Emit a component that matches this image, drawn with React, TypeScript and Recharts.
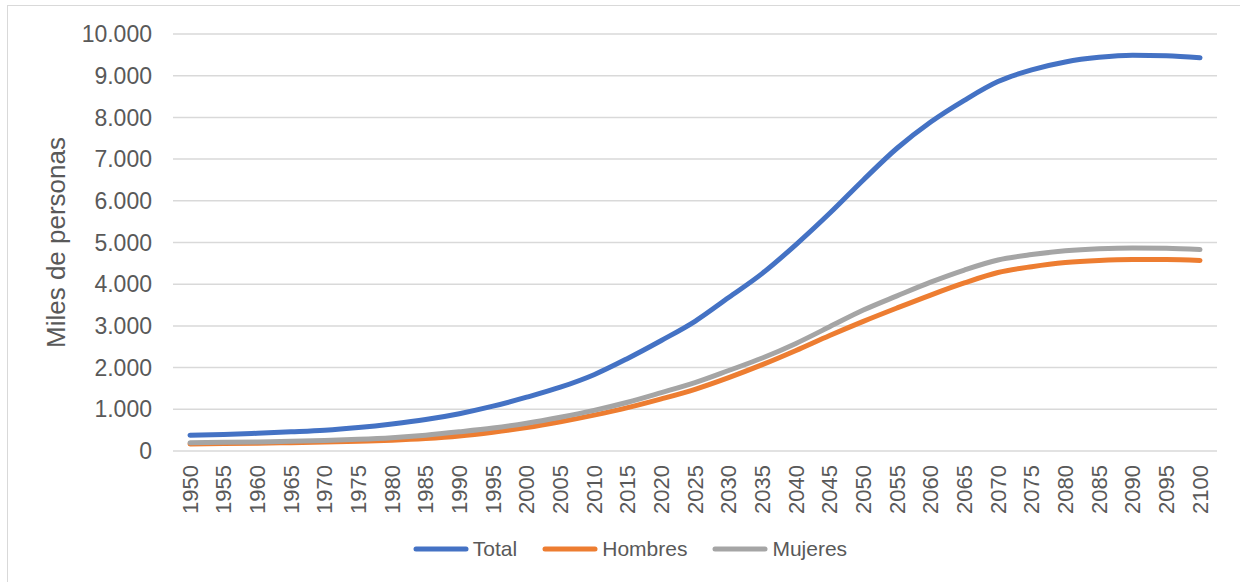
import React from "react";
import {
  LineChart,
  Line,
  XAxis,
  YAxis,
  CartesianGrid,
  Legend,
} from "recharts";

const years = [
  "1950", "1955", "1960", "1965", "1970", "1975", "1980", "1985", "1990", "1995",
  "2000", "2005", "2010", "2015", "2020", "2025", "2030", "2035", "2040", "2045",
  "2050", "2055", "2060", "2065", "2070", "2075", "2080", "2085", "2090", "2095",
  "2100",
];

const total = [
  380, 395, 425, 460, 500, 565, 650, 755, 895, 1075,
  1290, 1530, 1830, 2220, 2650, 3110, 3680, 4260, 4950, 5700,
  6500, 7260, 7890, 8410, 8860, 9140, 9330, 9440, 9490, 9480,
  9430,
];

const hombres = [
  170, 178, 188, 200, 215, 235, 260, 300, 360, 450,
  560, 700, 860, 1040, 1250, 1480, 1760, 2070, 2410, 2770,
  3110, 3430, 3740, 4030, 4280, 4420, 4520, 4570, 4590, 4590,
  4570,
];

const mujeres = [
  200, 207, 217, 232, 252, 280, 320, 380, 460, 550,
  665, 810, 975, 1170, 1400, 1640, 1930, 2230, 2580, 2980,
  3380, 3720, 4050, 4340, 4580, 4710, 4800, 4850, 4870, 4860,
  4830,
];

const yTicks = [0, 1000, 2000, 3000, 4000, 5000, 6000, 7000, 8000, 9000, 10000];

const SERIES = [
  { key: "Total", color: "#4472C4" },
  { key: "Hombres", color: "#ED7D31" },
  { key: "Mujeres", color: "#A5A5A5" },
];

const FONT = "'Liberation Sans', Arial, sans-serif";
const TEXT = "#595959";

const data = years.map((year, i) => ({
  year,
  Total: total[i],
  Hombres: hombres[i],
  Mujeres: mujeres[i],
}));

const fmt = (v: number) => String(v).replace(/\B(?=(\d{3})+(?!\d))/g, ".");

const XTick = (props: any) => {
  const { x, y, payload } = props;
  return (
    <text
      x={x}
      y={y}
      transform={`rotate(-90 ${x} ${y})`}
      textAnchor="end"
      dominantBaseline="central"
      fill={TEXT}
      fontSize={22}
      fontFamily={FONT}
    >
      {payload.value}
    </text>
  );
};

const renderLegend = () => (
  <div
    style={{
      display: "flex",
      justifyContent: "center",
      alignItems: "center",
      height: 30,
      paddingLeft: 20,
      fontFamily: FONT,
    }}
  >
    {SERIES.map((s, i) => (
      <div
        key={s.key}
        style={{
          display: "flex",
          alignItems: "center",
          marginRight: i < SERIES.length - 1 ? 25 : 0,
        }}
      >
        <svg width={56} height={8}>
          <line
            x1={3}
            y1={4}
            x2={53}
            y2={4}
            stroke={s.color}
            strokeWidth={5}
            strokeLinecap="round"
          />
        </svg>
        <span style={{ marginLeft: 4, fontSize: 21, color: TEXT }}>{s.key}</span>
      </div>
    ))}
  </div>
);

export default function App() {
  return (
    <div
      style={{
        position: "fixed",
        left: 0,
        top: 0,
        width: 1240,
        height: 582,
        background: "#fff",
        overflow: "hidden",
      }}
    >
      <div
        style={{
          position: "absolute",
          left: 7,
          top: 5,
          width: 1260,
          height: 600,
          borderLeft: "1px solid #D9D9D9",
          borderTop: "1px solid #D9D9D9",
        }}
      />
      <div style={{ position: "absolute", left: 0, top: 0 }}>
        <LineChart
          width={1240}
          height={582}
          data={data}
          margin={{ top: 34, right: 23, left: 93, bottom: 41 }}
        >
          <CartesianGrid vertical={false} stroke="#D9D9D9" strokeWidth={1.5} />
          <XAxis
            dataKey="year"
            interval={0}
            axisLine={false}
            tickLine={false}
            tickSize={0}
            tickMargin={14}
            height={60}
            padding={{ left: 17, right: 17 }}
            tick={<XTick />}
          />
          <YAxis
            width={80}
            domain={[0, 10000]}
            ticks={yTicks}
            tickFormatter={fmt}
            axisLine={false}
            tickLine={false}
            tickSize={0}
            tickMargin={21}
            tick={{ fill: TEXT, fontSize: 23, fontFamily: FONT }}
            label={{
              value: "Miles de personas",
              angle: -90,
              position: "center",
              dx: -77,
              style: { fontSize: 26, fill: TEXT, fontFamily: FONT, textAnchor: "middle" },
            }}
          />
          <Legend
            verticalAlign="bottom"
            content={renderLegend}
            wrapperStyle={{ left: 0, width: 1240, bottom: 18 }}
          />
          {SERIES.map((s) => (
            <Line
              key={s.key}
              type="monotone"
              dataKey={s.key}
              stroke={s.color}
              strokeWidth={5}
              strokeLinecap="round"
              dot={false}
              activeDot={false}
              isAnimationActive={false}
            />
          ))}
        </LineChart>
      </div>
    </div>
  );
}
